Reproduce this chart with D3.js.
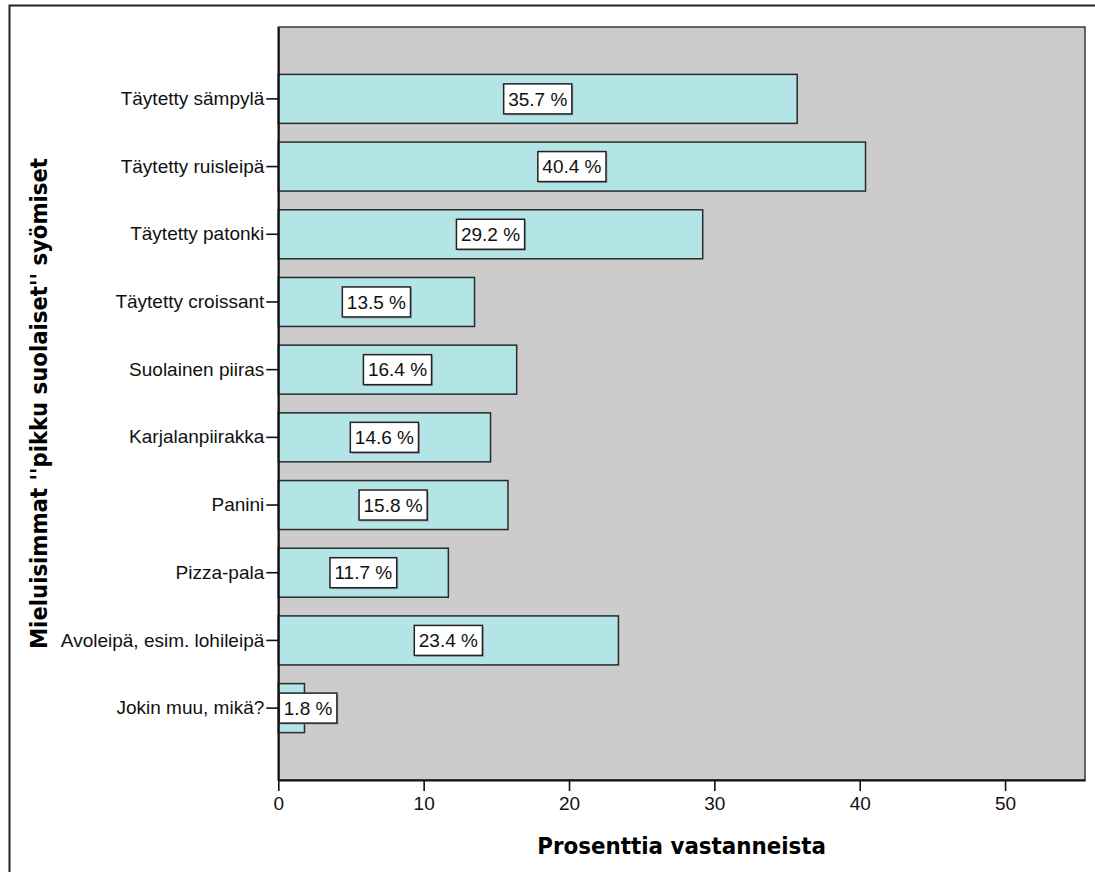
<!DOCTYPE html>
<html>
<head>
<meta charset="utf-8">
<script src="https://cdn.jsdelivr.net/npm/d3@7"></script>
<style>
  html, body { margin: 0; padding: 0; background: #fff; }
  svg { display: block; }
</style>
</head>
<body>
<div id="chart"></div>
<script>
const categories = [
  "Täytetty sämpylä",
  "Täytetty ruisleipä",
  "Täytetty patonki",
  "Täytetty croissant",
  "Suolainen piiras",
  "Karjalanpiirakka",
  "Panini",
  "Pizza-pala",
  "Avoleipä, esim. lohileipä",
  "Jokin muu, mikä?"
];
const values = [35.7, 40.4, 29.2, 13.5, 16.4, 14.6, 15.8, 11.7, 23.4, 1.8];
const xTicks = [0, 10, 20, 30, 40, 50];
const xTitle = "Prosenttia vastanneista";
const yTitle = "Mieluisimmat ''pikku suolaiset'' syömiset";

const W = 1095, H = 872;
const plot = { left: 278.3, right: 1085, top: 27, bottom: 780 };

const svg = d3.select("#chart").append("svg")
  .attr("width", W).attr("height", H);

// outer frame
svg.append("path")
  .attr("d", `M9.5,${H} V5.5 H${W}`)
  .attr("fill", "none").attr("stroke", "#222").attr("stroke-width", 2);

const x = d3.scaleLinear().domain([0, 55.5]).range([plot.left, plot.right]);
const y = d3.scaleBand().domain(categories).range([plot.top, plot.bottom])
  .paddingInner(0.276).paddingOuter(0.70);

// plot background
svg.append("rect")
  .attr("x", plot.left).attr("y", plot.top)
  .attr("width", plot.right - plot.left).attr("height", plot.bottom - plot.top)
  .attr("fill", "#cccccc").attr("stroke", "#3a3a3a").attr("stroke-width", 1.5);

// bars
svg.append("g").selectAll("rect").data(categories).join("rect")
  .attr("x", x(0))
  .attr("y", d => y(d))
  .attr("width", (d, i) => x(values[i]) - x(0))
  .attr("height", y.bandwidth())
  .attr("fill", "#b3e5e6")
  .attr("stroke", "#2a2a2a")
  .attr("stroke-width", 1.5);

// axes
const fontTick = "'Liberation Sans', Arial, sans-serif";
const xAxis = svg.append("g")
  .attr("transform", `translate(0,${plot.bottom})`)
  .call(d3.axisBottom(x).tickValues(xTicks).tickSize(11).tickPadding(6).tickSizeOuter(0));
const yAxis = svg.append("g")
  .attr("transform", `translate(${plot.left},0)`)
  .call(d3.axisLeft(y).tickSize(12).tickPadding(2).tickSizeOuter(0));

[xAxis, yAxis].forEach(a => {
  a.select(".domain").attr("stroke", "#111").attr("stroke-width", 2);
  a.selectAll(".tick line").attr("stroke", "#111").attr("stroke-width", 1.6);
  a.selectAll(".tick text").attr("fill", "#111")
    .style("font-family", fontTick).style("font-size", "19px");
});

// value labels
const labG = svg.append("g");
categories.forEach((c, i) => {
  const g = labG.append("g");
  const cy = y(c) + y.bandwidth() / 2;
  const txt = g.append("text")
    .text(values[i].toFixed(1) + " %")
    .attr("y", cy).attr("dy", "0.35em")
    .style("font-family", fontTick).style("font-size", "19px")
    .attr("fill", "#111");
  const tw = txt.node().getComputedTextLength();
  const bw = tw + 9, bh = 30;
  let bx = (x(0) + x(values[i])) / 2 - bw / 2;
  if (bx < x(0) + 1) bx = x(0) + 1;
  g.insert("rect", "text")
    .attr("x", bx + 1.5).attr("y", cy - bh / 2 + 1.5)
    .attr("width", bw).attr("height", bh)
    .attr("fill", "#888").attr("opacity", 0.6);
  g.insert("rect", "text")
    .attr("x", bx).attr("y", cy - bh / 2)
    .attr("width", bw).attr("height", bh)
    .attr("fill", "#fff").attr("stroke", "#222").attr("stroke-width", 1.5);
  txt.attr("x", bx + bw / 2).attr("text-anchor", "middle");
});

// titles
const fontTitle = "'DejaVu Sans Condensed', 'DejaVu Sans', sans-serif";
svg.append("text")
  .text(xTitle)
  .attr("x", (plot.left + plot.right) / 2).attr("y", 854)
  .attr("text-anchor", "middle")
  .style("font-family", fontTitle).style("font-weight", "bold")
  .style("font-stretch", "condensed").style("font-size", "23.8px")
  .attr("fill", "#000");
svg.append("text")
  .text(yTitle)
  .attr("transform", "rotate(-90)")
  .attr("x", -403.5).attr("y", 47)
  .attr("text-anchor", "middle")
  .style("font-family", fontTitle).style("font-weight", "bold")
  .style("font-stretch", "condensed").style("font-size", "23.6px")
  .attr("fill", "#000");
</script>
</body>
</html>
